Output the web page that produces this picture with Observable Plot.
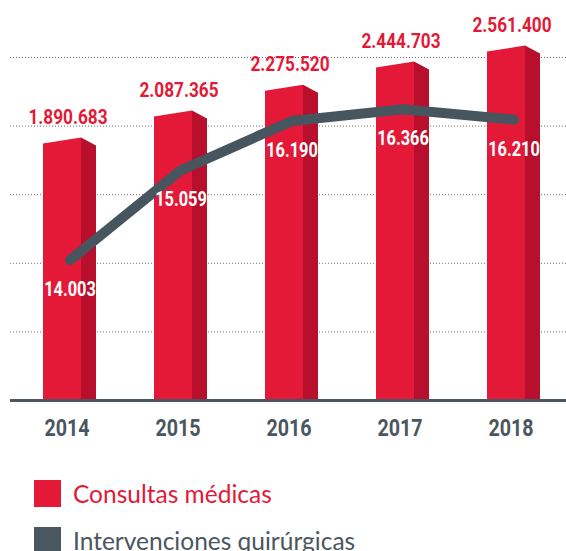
<!DOCTYPE html>
<html>
<head>
<meta charset="utf-8">
<script src="https://cdn.jsdelivr.net/npm/d3@7"></script>
<script src="https://cdn.jsdelivr.net/npm/@observablehq/plot@0.6"></script>
<style>
  html, body { margin: 0; padding: 0; background: #fff; }
  #page { position: relative; width: 566px; height: 551px; overflow: hidden; }
  #page svg { position: absolute; left: 0; top: 0; }
  .leg { position: absolute; left: 34px; display: flex; align-items: center; font-family: Lato, "Open Sans", sans-serif; font-size: 24.5px; white-space: nowrap; }
  .leg span.sw { display: inline-block; width: 27px; height: 27px; margin-right: 12px; }
  #err { position: absolute; left: 0; top: 0; font: 11px monospace; color: #000; }
</style>
</head>
<body>
<div id="page"><div id="err"></div></div>
<script>
const years = [2014, 2015, 2016, 2017, 2018];
const consultas = [1890683, 2087365, 2275520, 2444703, 2561400];
const intervenciones = [14003, 15059, 16190, 16366, 16210];
const gridValues = [500000, 1000000, 1500000, 2000000, 2500000];
const legendLabels = ["Consultas médicas", "Intervenciones quirúrgicas"];

const RED = "#e31937", RED_DARK = "#b80f2c", GREY = "#47555f", AXIS = "#4a5660";
const FONT = 'Roboto, "Liberation Sans", sans-serif';
const locale = d3.formatLocale({decimal: ",", thousands: ".", grouping: [3], currency: ["", ""]});
const fmt = locale.format(",");

const bars = years.map((y, i) => ({year: y, value: consultas[i]}));
const pts = years.map((y, i) => ({year: y, value: intervenciones[i]}));
const baseStyle = {fontFamily: FONT, background: "transparent", overflow: "visible"};
const xBand = {type: "band", domain: years, range: [-15, 598], padding: 0.5225};

const page = document.getElementById("page");
const errBox = document.getElementById("err");

// narrow the sans-serif glyphs horizontally to imitate the condensed face
function condense(svg, k) {
  svg.querySelectorAll("text").forEach(t => {
    const tr = t.getAttribute("transform");
    if (tr) t.setAttribute("transform", tr + ` scale(${k},1)`);
    else {
      const x = +t.getAttribute("x") || 0, y = +t.getAttribute("y") || 0;
      t.removeAttribute("x"); t.removeAttribute("y");
      t.setAttribute("transform", `translate(${x},${y}) scale(${k},1)`);
    }
  });
}

// give the bar faces a slanted (3D) top: offsets of left and right top corners in px
function slantTop(dl, dr) {
  return function (index, scales, values, dimensions, context, next) {
    const g = next(index, scales, values, dimensions, context);
    g.querySelectorAll("rect").forEach(r => {
      const x = +r.getAttribute("x"), y = +r.getAttribute("y");
      const w = +r.getAttribute("width"), h = +r.getAttribute("height");
      const p = document.createElementNS("http://www.w3.org/2000/svg", "path");
      for (const a of r.attributes) if (!["x", "y", "width", "height"].includes(a.name)) p.setAttribute(a.name, a.value);
      p.setAttribute("d", `M${x},${y + dl}L${x + w},${y + dr}L${x + w},${y + h}L${x},${y + h}Z`);
      r.replaceWith(p);
    });
    return g;
  };
}

try {
  const p1 = Plot.plot({
    width: 566, height: 450,
    marginLeft: 10, marginRight: 0, marginTop: 0, marginBottom: 50,
    x: {...xBand, tickFormat: d => String(d), label: null},
    y: {domain: [0, 2500000], range: [400, 57], axis: null},
    style: baseStyle,
    marks: [
      Plot.ruleY(gridValues, {stroke: "#6d6e70", strokeDasharray: "1,2", strokeWidth: 1}),
      Plot.barY(bars, {x: "year", y: "value", fill: RED, insetRight: 15, render: slantTop(3, -3)}),
      Plot.barY(bars, {x: "year", y: "value", fill: RED_DARK, insetLeft: 38, render: slantTop(-3, 5)}),
      Plot.ruleY([0], {stroke: AXIS, strokeWidth: 3}),
      Plot.axisX({tickSize: 0, tickPadding: 18, fontSize: 24, fontWeight: "bold", fill: AXIS, color: AXIS, label: null, tickFormat: d => String(d), dx: -3}),
      Plot.text(bars, {x: "year", y: "value", text: d => fmt(d.value), dy: -17, dx: -2, lineAnchor: "bottom",
        fill: RED, fontSize: 21, fontWeight: "bold"})
    ]
  });
  condense(p1, 0.82);
  page.appendChild(p1);
} catch (e) { errBox.textContent += "p1: " + e.message + " "; }

try {
  const p3 = Plot.plot({
    width: 566, height: 450,
    marginLeft: 10, marginRight: 0, marginTop: 0, marginBottom: 50,
    x: {...xBand, axis: null},
    y: {type: "linear", domain: [14000, 15000, 16000, 16500], range: [260, 172, 133, 100], axis: null},
    style: baseStyle,
    marks: [
      Plot.line(pts, {x: "year", y: "value", stroke: GREY, strokeWidth: 10, strokeLinecap: "round", strokeLinejoin: "round"}),
      Plot.text(pts, {x: "year", y: "value", text: d => fmt(d.value), dy: 36, lineAnchor: "bottom",
        fill: "white", fontSize: 20, fontWeight: "bold"})
    ]
  });
  condense(p3, 0.82);
  page.appendChild(p3);
} catch (e) { errBox.textContent += "p3: " + e.message + " "; }

const legColors = [RED, AXIS];
const legTops = [479, 526];
legendLabels.forEach((lab, i) => {
  const d = document.createElement("div");
  d.className = "leg";
  d.style.top = legTops[i] + "px";
  d.style.color = legColors[i];
  d.innerHTML = `<span class="sw" style="background:${legColors[i]}"></span><span>${lab}</span>`;
  page.appendChild(d);
});
</script>
</body>
</html>
